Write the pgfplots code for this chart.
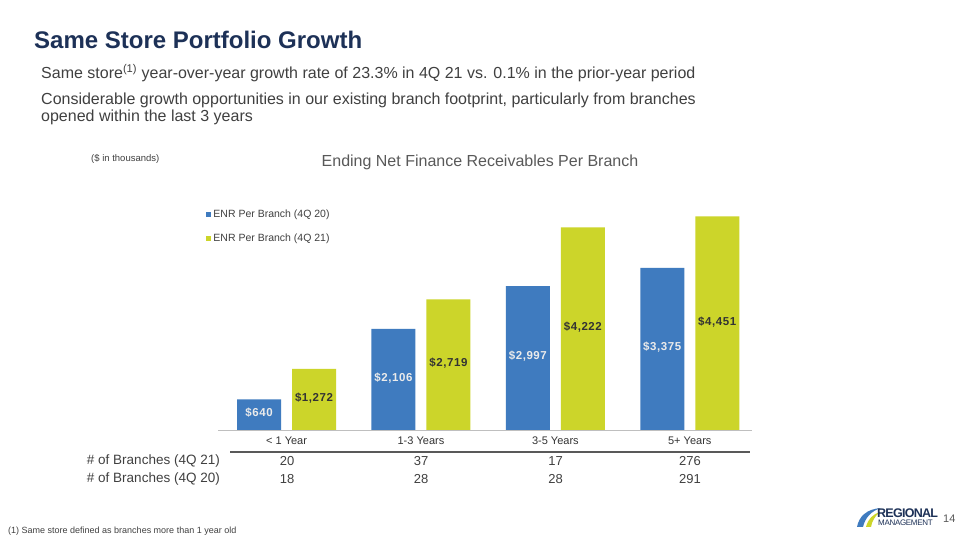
\documentclass[border=0pt]{standalone}
\usepackage{pgfplots}
\pgfplotsset{compat=1.18}
\usepackage{fontspec}
\setmainfont{Liberation Sans}
\definecolor{navy}{HTML}{1D3157}
\definecolor{txtgray}{HTML}{404040}
\definecolor{midgray}{HTML}{595959}
\definecolor{barblue}{HTML}{3F7BBF}
\definecolor{bargreen}{HTML}{CCD52A}
\begin{document}
\begin{tikzpicture}[x=1pt,y=1pt]
\useasboundingbox (0,0) rectangle (960,540);
\fill[white] (0,0) rectangle (960,540);
% headings
\node[anchor=west, inner sep=0pt, font=\fontsize{24}{28}\selectfont\bfseries, text=navy] at (34,500) {Same Store Portfolio Growth};
\node[anchor=west, inner sep=0pt, font=\fontsize{16}{18}\selectfont, text=txtgray] at (41,467) {Same store\textsuperscript{(1)} year-over-year growth rate of 23.3\% in 4Q 21 vs. 0.1\% in the prior-year period};
\node[anchor=west, inner sep=0pt, font=\fontsize{16}{18}\selectfont, text=txtgray] at (41,440) {Considerable growth opportunities in our existing branch footprint, particularly from branches};
\node[anchor=west, inner sep=0pt, font=\fontsize{16}{18}\selectfont, text=txtgray] at (41,423) {opened within the last 3 years};
\node[anchor=west, inner sep=0pt, font=\fontsize{9.5}{11}\selectfont, text=txtgray] at (91,381) {(\$ in thousands)};
\node[inner sep=0pt, font=\fontsize{16}{18}\selectfont, text=midgray] at (480,378) {Ending Net Finance Receivables Per Branch};
% chart
\begin{axis}[
  at={(218pt,110pt)}, anchor=south west,
  x=134.4pt, y=0.048pt,
  xmin=-0.51, xmax=3.464, ymin=0, ymax=4800,
  clip=false,
  axis x line*=bottom, axis y line=none,
  x axis line style={draw=black!25, line width=0.6pt, -},
  ytick=\empty, xtick={0,1,2,3},
  xticklabels={{< 1 Year},{1-3 Years},{3-5 Years},{5+ Years}},
  major tick length=0pt,
  xticklabel style={font=\fontsize{11}{12}\selectfont, text=black!80, anchor=center, yshift=-11pt},
  ybar=11pt, bar width=44pt,
  /pgf/number format/assume math mode=true,
  /pgf/number format/1000 sep={,},
  visualization depends on=rawy \as \myy,
  nodes near coords={\$\pgfmathprintnumber{\pgfplotspointmeta}},
  every node near coord/.append style={font=\fontsize{11.5}{13}\selectfont\bfseries\addfontfeatures{LetterSpace=5}, anchor=center, yshift=-0.024pt*\myy+1.5pt},
  legend style={at={(-0.022,0.964)}, anchor=north west, draw=none, fill=none,
    font=\fontsize{10.5}{12}\selectfont, text=txtgray, row sep=11pt, inner sep=0pt},
  legend cell align=left,
  legend image code/.code={\fill[#1] (0pt,-2.5pt) rectangle (5pt,2.5pt);},
]
\addplot[fill=barblue, draw=none, every node near coord/.append style={text=white!92!black}]
  coordinates {(0,640) (1,2106) (2,2997) (3,3375)};
\addlegendentry{ENR Per Branch (4Q 20)}
\addplot[fill=bargreen, draw=none, every node near coord/.append style={text=black!80}]
  coordinates {(0,1272) (1,2719) (2,4222) (3,4451)};
\addlegendentry{ENR Per Branch (4Q 21)}
\end{axis}
% table under chart
\draw[midgray, line width=1.3pt] (230,88) -- (750,88);
\node[anchor=east, inner sep=0pt, font=\fontsize{13.5}{15}\selectfont, text=txtgray] at (220,79) {\# of Branches (4Q 21)};
\node[anchor=east, inner sep=0pt, font=\fontsize{13.5}{15}\selectfont, text=txtgray] at (220,61) {\# of Branches (4Q 20)};
\foreach \xx/\a/\b in {287/20/18, 421/37/28, 555.5/17/28, 690/276/291}{
  \node[inner sep=0pt, font=\fontsize{13}{15}\selectfont, text=txtgray] at (\xx,79) {\a};
  \node[inner sep=0pt, font=\fontsize{13}{15}\selectfont, text=txtgray] at (\xx,61) {\b};
}
% footnote
\node[anchor=west, inner sep=0pt, font=\fontsize{9}{10}\selectfont, text=txtgray] at (8,9) {(1) Same store defined as branches more than 1 year old};
% logo and page number
\fill[barblue] (857,13) .. controls (859,24) and (867,31) .. (881,32) .. controls (871,29) and (865,22) .. (863,13) -- cycle;
\fill[bargreen] (866,13) .. controls (868,21) and (873,26) .. (880,28) .. controls (875,24) and (872,19) .. (871,13) -- cycle;
\node[anchor=west, inner sep=0pt, font=\fontsize{12.5}{13}\selectfont\bfseries, text=navy] at (877,27) {\addfontfeatures{LetterSpace=-6}REGIONAL};
\node[anchor=west, inner sep=0pt, font=\fontsize{8}{9}\selectfont, text=navy] at (878,17) {\addfontfeatures{LetterSpace=-4}MANAGEMENT};
\node[anchor=west, inner sep=0pt, font=\fontsize{11}{12}\selectfont, text=midgray] at (943,21) {14};
\end{tikzpicture}
\end{document}
